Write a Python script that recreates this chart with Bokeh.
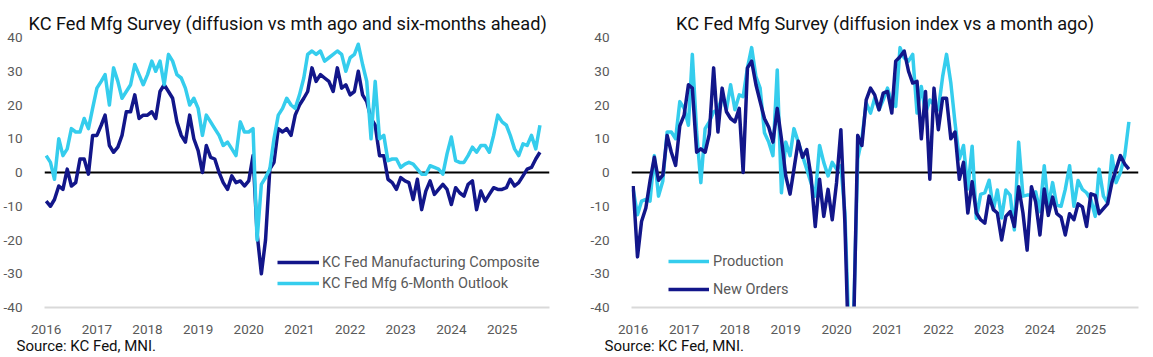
import pandas as pd
from bokeh.plotting import figure
from bokeh.models import (Span, Title, Legend, LegendItem, FixedTicker,
                          DatetimeTickFormatter, Range1d)
from bokeh.layouts import row
from bokeh.embed import file_html
from bokeh.resources import INLINE

# ---------------- data (monthly, Jan 2016 - Oct 2025) ----------------
months = pd.date_range("2016-01-01", "2025-10-01", freq="MS")

composite = [-8.5, -10, -8, -4, -5, 1, -4, -3, 4, 4, -0.5, 11,
             11, 14, 17, 8, 6, 7.5, 11, 18, 18, 23, 16, 17,
             17, 18, 16, 24, 26, 24, 22, 15, 11, 9, 17, 10,
             6.5, 0, 8, 4.5, 4, 0, -3, -5, -1, -3, -2.5, -4,
             -2.5, 5, -18, -30, -20, 1, 3, 13, 12, 13, 11, 17,
             20, 22, 24, 31, 27, 29, 28, 27, 24, 31, 25, 26,
             23, 24, 30, 23, 21, 16, 14, 5, 5, -2, -3, -5,
             -1.5, -2.5, -3, -8, -2, -11, -5.5, -2.5, -6.5, -5, -3.5, -5,
             -9.5, -4.5, -6, -7, -3.5, -2.5, -11, -5.5, -8.5, -6.5, -4.5, -5,
             -5, -4.5, -2, -4, -3, -1, 1, 1.5, 4, 6]

outlook = [5, 3, -2, 10, 5, 7, 13, 12, 12, 16, 13, 19,
           25, 27, 29, 20, 31, 27, 22, 24, 26, 32, 29, 26,
           29, 33, 30, 33, 26, 35, 33, 29, 28, 25, 20, 22,
           19, 11, 17, 15, 13, 11, 8, 9, 7, 5, 15, 12,
           12, 13, -20, -3.5, -1.5, 1, 10, 17, 19, 22, 20, 19,
           23, 28, 35, 36, 35, 36, 33, 34, 35, 36, 35, 30,
           34, 35, 38, 32, 27, 10, 27, 10, 11, 3.5, 4, 4,
           1.5, 2.5, 3, 2.5, 1, -0.5, -0.5, 2, 1.5, 1, -0.5, 5.5,
           10.5, 3.5, 3, 3, 5, 7.5, 6, 8, 8, 6, 11, 17,
           15, 14, 11, 7, 5, 8.5, 8, 11, 7, 14]

production = [-5, -12.5, -8.5, -8, -8.5, 5, -7, -2.5, 12, 12, 10, 21,
              19, 14, 35, 12, -3, 13, 15, 18, 18.6, 22.5, 18.6, 26,
              18.6, 23, 22.5, 31, 37, 28.4, 25, 11.8, 9, 5, 30.4, -6,
              9, 5, 13, 9, 5, 1, -3, -7, 8, 3, -1, 3,
              1, 2, -12, -50, -45, 4, 10, 20.6, 17.6, 22, 18.6, 21.5,
              25, 20.6, 19.6, 37, 34, 33, 35, 17.6, 25.5, 17.6, 21.5, 20,
              18.6, 28.4, 35, 26.5, 14.7, 4, 8, -4.9, 7.8, -13.6, -6.5, -6,
              -2.3, -11, -5.2, -13.5, -5.2, -6.7, -17, 9, -7, -6.7, -6.7, -5.7,
              -11.6, 2, -10, -3, -9.7, -10, -5, 2, -10, -2.4, -5, -6,
              -8, -13, 1, -7, -9, 5, -3, 0, 5, 15]

new_orders = [-4, -25, -14.5, -10.5, -2.5, 4.5, -2.3, -0.8, 11, 6, 2.1, 13.8,
              17, 26, 25, 6, 7, 6, 11.4, 31, 12, 25, 18, 16,
              15, 19, 0, 31, 33, 26, 21, 16, 13.4, 9, 19, 10,
              -1, -6.4, 1, 9.3, 4.5, 6.8, -1, -16, -2, -13, -5, -14,
              -3, 12.7, -15, -60, -50, 11, 8, 21.5, 25, 23, 18.6, 23.5,
              24, 17.6, 33, 34.3, 36, 30, 26.5, 27, 10, 24, -2, 25,
              12.7, 22, 22, 10, 12, -2, 3, -12, -2.7, -12, -14, -15,
              -7, -11, -12, -20, -13, -11.6, -16, -4.2, -12, -23, -4.2, -8.7,
              -18.5, -4.9, -12.7, -7.3, -12.2, -13.2, -18.5, -12.2, -14, -9.3, -10.2, -16,
              -6.3, -6.8, -12.2, -10.7, -9.3, -3, 1, 5, 2.5, 1]

years = [2016, 2017, 2018, 2019, 2020, 2021, 2022, 2023, 2024, 2025]
y_ticks = [-40, -30, -20, -10, 0, 10, 20, 30, 40]
y_tick_labels = ["-40", "-30", "-20", "-10", "0", "10", "20", "30", "40"]

title_left = "KC Fed Mfg Survey (diffusion vs mth ago and six-months ahead)"
title_right = "KC Fed Mfg Survey (diffusion index vs a month ago)"
source_text = "Source: KC Fed, MNI."

# ---------------- style ----------------
DARK = "#12168A"
LIGHT = "#35CDED"
GREY = "#595959"
FONT = "Roboto"
H = 357


def make_fig(width, left, right, top, bottom, title, title_align, title_offset):
    p = figure(width=width, height=H, x_axis_type="datetime",
               output_backend="svg", toolbar_location=None,
               x_range=Range1d(pd.Timestamp("2015-12-20"), pd.Timestamp("2025-12-09")),
               y_range=Range1d(-40, 40),
               min_border_left=left, min_border_right=width - right,
               min_border_top=top, min_border_bottom=H - bottom)
    p.outline_line_color = None
    p.background_fill_color = "white"
    p.border_fill_color = "white"
    p.xgrid.visible = False
    p.ygrid.visible = False

    p.title.text = title
    p.title.align = title_align
    p.title.offset = title_offset
    p.title.vertical_align = "bottom"
    p.title.standoff = 8
    p.title.text_font = FONT
    p.title.text_font_size = "18.2px"
    p.title.text_font_style = "normal"
    p.title.text_color = "#111111"

    xa = p.xaxis[0]
    xa.ticker = FixedTicker(ticks=[pd.Timestamp(f"{y}-01-01").value / 1e6 for y in years])
    xa.formatter = DatetimeTickFormatter(years="%Y", months="%Y", days="%Y")
    xa.axis_line_color = "#d9d9d9"
    xa.axis_line_width = 2
    xa.major_tick_line_color = None
    xa.minor_tick_line_color = None
    xa.major_label_text_color = GREY
    xa.major_label_text_font = FONT
    xa.major_label_text_font_size = "13.5px"
    xa.major_label_standoff = 11

    ya = p.yaxis[0]
    ya.ticker = FixedTicker(ticks=y_ticks)
    ya.major_label_overrides = {t: s for t, s in zip(y_ticks, y_tick_labels)}
    ya.axis_line_color = None
    ya.major_tick_line_color = None
    ya.minor_tick_line_color = None
    ya.major_label_text_color = GREY
    ya.major_label_text_font = FONT
    ya.major_label_text_font_size = "13.5px"
    ya.major_label_standoff = 16

    p.add_layout(Span(location=0, dimension="width", line_color="black",
                      line_width=2, level="underlay"))
    return p


def add_source(p, offset):
    p.add_layout(Title(text=source_text, align="left", offset=offset,
                       vertical_align="top", standoff=0,
                       text_font=FONT, text_font_size="15px",
                       text_font_style="normal", text_color="#111111"), "below")


# ---------------- left chart ----------------
p1 = make_fig(576, 43, 549, 37, 307, title_left, "left", -16)
r_comp = p1.line(months, composite, line_color=DARK, line_width=3.5, line_join="round")
r_out = p1.line(months, outlook, line_color=LIGHT, line_width=3.5, line_join="round")
leg1 = Legend(items=[LegendItem(label="KC Fed Manufacturing Composite", renderers=[r_comp]),
                     LegendItem(label="KC Fed Mfg 6-Month Outlook", renderers=[r_out])],
              location=(233, 14), glyph_width=42, glyph_height=20, label_height=20,
              label_standoff=3, spacing=1, padding=0, margin=0,
              border_line_color=None, background_fill_alpha=0,
              label_text_font=FONT, label_text_font_size="14.5px",
              label_text_color=GREY)
p1.add_layout(leg1)
add_source(p1, -28)

# ---------------- right chart ----------------
p2 = make_fig(577, 55, 562, 37, 311, title_right, "center", 0)
r_prod = p2.line(months, production, line_color=LIGHT, line_width=3.5, line_join="round")
r_new = p2.line(months, new_orders, line_color=DARK, line_width=3.5, line_join="round")
leg2 = Legend(items=[LegendItem(label="Production", renderers=[r_prod]),
                     LegendItem(label="New Orders", renderers=[r_new])],
              location=(37, 8), glyph_width=41, glyph_height=20, label_height=20,
              label_standoff=4, spacing=8, padding=0, margin=0,
              border_line_color=None, background_fill_alpha=0,
              label_text_font=FONT, label_text_font_size="14.5px",
              label_text_color=GREY)
p2.add_layout(leg2)
add_source(p2, -27)

layout = row(p1, p2)
open("out.html", "w").write(file_html(layout, INLINE))
